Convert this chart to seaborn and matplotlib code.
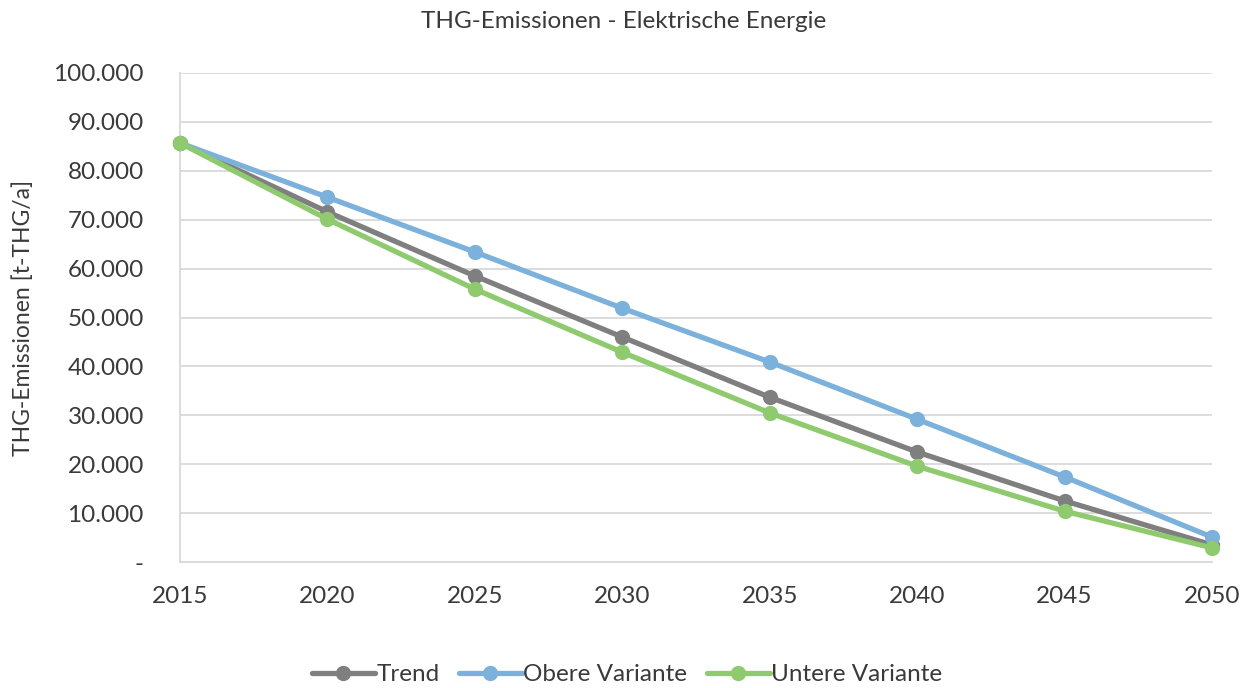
import pandas as pd
import numpy as np
import seaborn as sn
import matplotlib.pyplot as plt
from matplotlib.ticker import FuncFormatter

# data
years = [2015, 2020, 2025, 2030, 2035, 2040, 2045, 2050]
trend = [85700, 71600, 58500, 46000, 33700, 22500, 12500, 3500]
obere = [85700, 74600, 63400, 51900, 40900, 29200, 17400, 5100]
untere = [85700, 70100, 55800, 42900, 30500, 19600, 10400, 2900]
series_names = ['Trend', 'Obere Variante', 'Untere Variante']
colors = ['#7f7f7f', '#7cb1dc', '#8fca6e']

df = pd.DataFrame({
    'Jahr': years * 3,
    'Wert': trend + obere + untere,
    'Variante': [n for n in series_names for _ in years],
})

sn.set_style('white')
plt.rcParams['font.family'] = ['Lato', 'DejaVu Sans']
txtcol = '#3a3a3a'

fig = plt.figure(figsize=(12.54, 6.88), dpi=100)
ax = fig.add_axes([0.1435, 0.1831, 0.8230, 0.7108])

sn.lineplot(data=df, x='Jahr', y='Wert', hue='Variante', palette=colors,
            marker='o', markersize=11, markeredgewidth=0, linewidth=3.8,
            ax=ax, clip_on=False, zorder=3)

ax.set_xlim(2015, 2050)
ax.set_ylim(0, 100000)
ax.set_xticks(years)
ax.set_yticks(np.arange(0, 100001, 10000))
ax.yaxis.set_major_formatter(FuncFormatter(
    lambda v, p: '-' if v == 0 else f'{int(v):,}'.replace(',', '.')))
ax.grid(axis='y', color='#d9d9d9', linewidth=1.3)
for s in ['top', 'right']:
    ax.spines[s].set_visible(False)
for s in ['left', 'bottom']:
    ax.spines[s].set_color('#d9d9d9')
    ax.spines[s].set_linewidth(1.3)
ax.tick_params(axis='both', color='#d9d9d9', labelcolor=txtcol,
               labelsize=17.5, length=8, width=1.3)
ax.tick_params(axis='y', pad=18)
ax.tick_params(axis='x', pad=9)
ax.set_xlabel('')
ax.set_ylabel('THG-Emissionen [t-THG/a]', fontsize=16.5, color=txtcol, labelpad=14)
fig.suptitle('THG-Emissionen - Elektrische Energie', fontsize=17.5, color=txtcol,
             x=0.497, y=0.984)

handles, labels = ax.get_legend_handles_labels()
ax.legend(handles, labels, loc='lower center', bbox_to_anchor=(0.5, -0.028),
          bbox_transform=fig.transFigure, ncol=3, frameon=False,
          fontsize=17.5, labelcolor=txtcol, handlelength=2.6,
          handletextpad=0.05, columnspacing=0.8)

plt.savefig('out.png', dpi=100)
plt.close()
